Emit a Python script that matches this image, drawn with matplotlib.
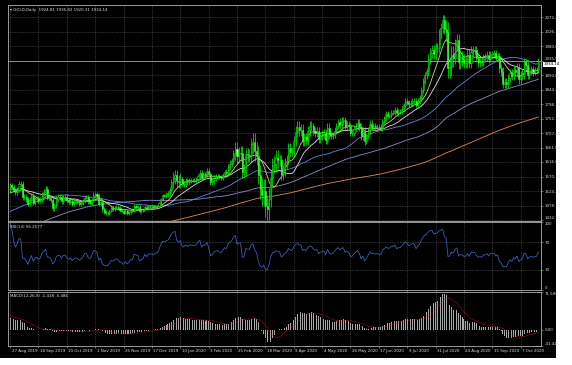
import matplotlib
matplotlib.use("Agg")
import matplotlib.pyplot as plt
from matplotlib.patches import Rectangle
import numpy as np
import pandas as pd

# daily closes 27 Aug 2019 .. 21 Oct 2020 (one row per week)
closes = [
    1542, 1538, 1527, 1520,
    1529, 1547, 1546, 1506, 1506,
    1499, 1485, 1497, 1510, 1488,
    1498, 1502, 1494, 1498, 1516,
    1522, 1532, 1504, 1504, 1497,
    1472, 1479, 1499, 1505, 1505,
    1493, 1505, 1506, 1495, 1489,
    1494, 1483, 1490, 1492, 1490,
    1484, 1487, 1493, 1504, 1505,
    1492, 1488, 1496, 1513, 1514,
    1509, 1484, 1491, 1467, 1459,
    1456, 1456, 1463, 1471, 1468,
    1472, 1474, 1471, 1464, 1462,
    1456, 1462, 1455, 1458, 1464,
    1463, 1477, 1475, 1474, 1460,
    1462, 1465, 1475, 1469, 1476,
    1476, 1476, 1475, 1478, 1478,
    1486, 1499, 1511, 1510,
    1514, 1517, 1528, 1552,
    1566, 1574, 1556, 1552, 1562,
    1548, 1546, 1556, 1552, 1557,
    1560, 1558, 1558, 1562, 1571,
    1582, 1567, 1577, 1576, 1589,
    1577, 1553, 1556, 1566, 1570,
    1572, 1568, 1566, 1575, 1584,
    1582, 1601, 1611, 1619, 1643,
    1658, 1634, 1641, 1643, 1586,
    1591, 1640, 1637, 1636, 1673,
    1679, 1650, 1636, 1576, 1530,
    1513, 1526, 1477, 1469, 1498,
    1566, 1605, 1611, 1630, 1621,
    1621, 1577, 1590, 1612, 1620,
    1660, 1647, 1646, 1683,
    1712, 1726, 1716, 1717, 1683,
    1694, 1686, 1713, 1730, 1728,
    1713, 1706, 1713, 1687, 1700,
    1702, 1705, 1686, 1724, 1703,
    1697, 1701, 1715, 1730, 1743,
    1732, 1745, 1747, 1726, 1734,
    1728, 1707, 1708, 1721, 1730,
    1740, 1727, 1698, 1713, 1683,
    1697, 1715, 1737, 1727, 1730,
    1725, 1727, 1727, 1723, 1743,
    1754, 1768, 1762, 1763, 1771,
    1772, 1781, 1769, 1775, 1774,
    1784, 1795, 1809, 1803, 1798,
    1802, 1809, 1808, 1796, 1809,
    1817, 1842, 1872, 1889, 1902,
    1941, 1960, 1970, 1957, 1975,
    1976, 2019, 2038, 2063, 2035,
    2027, 1911, 1916, 1953, 1944,
    1985, 2001, 1930, 1947, 1940,
    1929, 1929, 1954, 1929, 1964,
    1968, 1968, 1945, 1931, 1934,
    1930, 1944, 1947, 1954, 1940,
    1956, 1955, 1959, 1944, 1950,
    1911, 1900, 1863, 1868, 1862,
    1881, 1898, 1886, 1906, 1899,
    1914, 1877, 1888, 1893, 1930,
    1922, 1891, 1902, 1908, 1900,
    1905, 1907, 1934.14,
]

# typical wick length for each week
week_wick = [7, 9, 8, 7, 8, 9, 8, 6, 6, 7, 8, 6, 5, 5, 6, 5, 4,
             5, 9, 18, 8, 6, 8, 9, 7, 10, 22, 20, 30, 35, 25, 18, 15,
             18, 15, 12, 14, 10, 12, 10, 12, 10, 9, 8, 8, 8, 9, 10, 15,
             15, 30, 20, 18, 15, 12, 10, 14, 12, 15, 12, 10]

# weekly closes before the chart (Nov 2018 .. Aug 2019), only to warm up the indicators
prior_weekly = [1210, 1222, 1223, 1222, 1248, 1238, 1258, 1279, 1287, 1290, 1282,
                1298, 1320, 1314, 1322, 1328, 1313, 1298, 1302, 1312, 1292, 1291,
                1290, 1276, 1286, 1281, 1285, 1277, 1284, 1305, 1341, 1341, 1399,
                1409, 1400, 1415, 1426, 1419, 1440, 1497, 1513, 1527, 1529]

date_labels = ["27 Aug 2019", "18 Sep 2019", "10 Oct 2019", "1 Nov 2019", "25 Nov 2019",
               "17 Dec 2019", "10 Jan 2020", "3 Feb 2020", "25 Feb 2020", "18 Mar 2020",
               "9 Apr 2020", "4 May 2020", "26 May 2020", "17 Jun 2020", "9 Jul 2020",
               "31 Jul 2020", "24 Aug 2020", "15 Sep 2020", "7 Oct 2020"]
price_ticks = [2072.45, 2026.40, 1980.60, 1935.55, 1890.05, 1844.25, 1798.20, 1752.35,
               1707.40, 1661.50, 1616.05, 1570.10, 1524.20, 1478.30, 1432.75]

dates = pd.bdate_range("2019-08-27", "2020-10-21")
dates = dates[~dates.isin(pd.to_datetime(["2019-12-25", "2020-01-01", "2020-04-10"]))]
n = len(closes)
x = np.arange(n)

c = np.array(closes, dtype=float)
o = np.concatenate([[prior_weekly[-1]], c[:-1]])
week_idx = ((dates - pd.Timestamp("2019-08-26")).days // 7).values
wk = np.array(week_wick, dtype=float)[week_idx]
h = np.maximum(o, c) + wk
l = np.minimum(o, c) - wk

full = pd.Series(np.concatenate([np.repeat(prior_weekly, 5), c]))
ma = {p: full.rolling(p).mean().values[-n:] for p in (10, 20, 50, 100, 200)}
ma_colors = {10: "#d8d070", 20: "#e0e0e0", 50: "#5a88e0", 100: "#8c8cd0", 200: "#e08a50"}

d = full.diff()
up = d.clip(lower=0).ewm(alpha=1 / 14, adjust=False).mean()
dn = (-d.clip(upper=0)).ewm(alpha=1 / 14, adjust=False).mean()
rsi = (100 - 100 / (1 + up / dn)).values[-n:]

macd_full = full.ewm(span=12, adjust=False).mean() - full.ewm(span=26, adjust=False).mean()
signal = macd_full.rolling(9).mean().values[-n:]
macd = macd_full.values[-n:]

W, H = 572, 365
FS = 2.9
fig = plt.figure(figsize=(W / 100, H / 100), dpi=100)
fig.patch.set_facecolor("white")
fig.patches.append(Rectangle((0, 1 - 358 / H), 556 / W, 358 / H, transform=fig.transFigure,
                             facecolor="black", edgecolor="none", zorder=-10))

def panel(top, bottom):
    ax = fig.add_axes([8 / W, 1 - bottom / H, (541 - 8) / W, (bottom - top) / H])
    ax.set_facecolor("black")
    for s in ax.spines.values():
        s.set_color("#b0b0b0")
        s.set_linewidth(0.6)
    ax.set_xlim(-1.2, n + 0.5)
    ax.set_xticks(np.arange(0, n, 16))
    ax.tick_params(axis="both", length=1.5, width=0.4, colors="#b0b0b0", labelsize=FS,
                   labelcolor="#d8d8d8", pad=1)
    ax.tick_params(axis="x", labelbottom=False)
    ax.yaxis.tick_right()
    ax.grid(True, color="#8a8a8a", linestyle=(0, (1, 2)), linewidth=0.4)
    return ax

txt_kw = dict(fontsize=FS, color="#e0e0e0")

# main price panel
ax = panel(5, 221)
ax.set_ylim(1430, 2111)
ax.set_yticks(price_ticks)
ax.set_yticklabels([f"{v:.2f}" for v in price_ticks])
labs = ax.get_yticklabels()
labs[3].set_va("bottom")
labs[-1].set_va("bottom")
for p in (200, 100, 50, 20, 10):
    ax.plot(x, ma[p], color=ma_colors[p], linewidth=0.6, zorder=2)
ax.vlines(x, l, h, color="#00ff00", linewidth=0.5, zorder=3)
bull = c >= o
ax.bar(x[bull], (c - o)[bull], bottom=o[bull], width=0.6, facecolor="black",
       edgecolor="#00ff00", linewidth=0.4, zorder=4)
ax.bar(x[~bull], (o - c)[~bull], bottom=c[~bull], width=0.6, facecolor="#e8ffe8",
       edgecolor="#00ff00", linewidth=0.4, zorder=4)
ax.axhline(c[-1], color="#c8c8c8", linewidth=0.5, zorder=1)
ax.text(1.004, c[-1] - 3, f"{c[-1]:.2f}", transform=ax.get_yaxis_transform(), fontsize=FS,
        color="black", va="top", ha="left",
        bbox=dict(boxstyle="square,pad=0.12", facecolor="white", edgecolor="none"))
ax.text(0.004, 0.985, "\u25be GOLD,Daily  1924.81 1935.82 1920.31 1934.14",
        transform=ax.transAxes, va="top", ha="left", **txt_kw)

# RSI panel
ax2 = panel(222, 290)
ax2.set_ylim(0, 100)
ax2.set_yticks([100, 70, 30, 0])
labs = ax2.get_yticklabels()
labs[0].set_va("top")
labs[-1].set_va("bottom")
ax2.grid(False)
ax2.grid(True, axis="x", color="#8a8a8a", linestyle=(0, (1, 2)), linewidth=0.4)
for lv in (70, 30):
    ax2.axhline(lv, color="#9a9a9a", linestyle=(0, (1, 2)), linewidth=0.4)
ax2.plot(x, rsi, color="#3f62c8", linewidth=0.55)
ax2.text(0.004, 0.96, f"RSI(14) {rsi[-1]:.4f}", transform=ax2.transAxes,
         va="top", ha="left", **txt_kw)

# MACD panel
ax3 = panel(292, 346)
ax3.set_ylim(-31.425, 71.506)
ax3.set_yticks([71.506, 0, -31.425])
ax3.set_yticklabels(["71.506", "0.00", "-31.425"])
labs = ax3.get_yticklabels()
labs[0].set_va("top")
labs[-1].set_va("bottom")
ax3.grid(False)
ax3.grid(True, axis="x", color="#8a8a8a", linestyle=(0, (1, 2)), linewidth=0.4)
ax3.bar(x, macd, width=0.45, color="#a8a8a8", linewidth=0)
ax3.plot(x, signal, color="#ff2020", linewidth=0.5, linestyle=(0, (1, 1)))
ax3.text(0.004, 0.96, f"MACD(12,26,9) {macd[-1]:.3f} {signal[-1]:.3f}", transform=ax3.transAxes,
         va="top", ha="left", **txt_kw)
for i, lab in zip(np.arange(0, n, 16), date_labels):
    ax3.text(i + 0.8, -0.05, lab, transform=ax3.get_xaxis_transform(), fontsize=FS,
             color="#e0e0e0", ha="left", va="top")

fig.savefig("out.png", dpi=100, facecolor=fig.get_facecolor())
